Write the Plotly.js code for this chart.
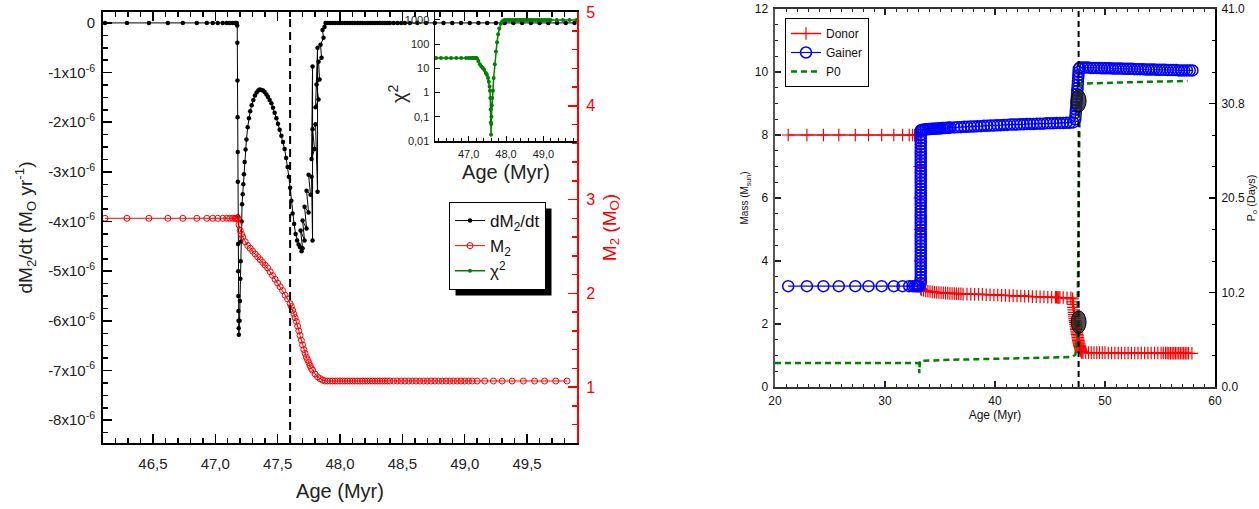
<!DOCTYPE html>
<html><head><meta charset="utf-8">
<script src="https://cdn.plot.ly/plotly-3.0.1.min.js"></script>
<style>html,body{margin:0;padding:0;background:#fff}#chart{width:1259px;height:509px}</style>
</head><body><div id="chart"></div>
<script>
// ---------- LEFT PANEL DATA ----------
// dM2/dt in units of 1e-6 Msun/yr  [age (Myr), value]
const dm2dtPts = [
[46.116,0],[46.292,0],[46.468,0],[46.62,0],[46.74,0],[46.852,0],[46.932,0],[46.98,0],[47.02,0],[47.06,0],[47.092,0],[47.116,0],[47.14,0],[47.155,0],[47.165,0],[47.172,0],
[47.176,-0.05],[47.177,-0.4],[47.178,-1.16],[47.179,-1.9],[47.18,-2.6],[47.181,-3.2],[47.182,-3.9],[47.183,-4.45],[47.184,-5.0],[47.185,-5.5],[47.186,-5.8],[47.187,-6.0],[47.188,-6.15],[47.189,-6.28],
[47.195,-6.0],[47.198,-5.6],[47.201,-5.15],[47.204,-4.8],[47.207,-4.4],[47.211,-4.0],[47.215,-3.65],
[47.22,-3.45],[47.225,-3.25],[47.23,-3.05],[47.236,-2.8],[47.243,-2.55],[47.25,-2.35],[47.26,-2.1],[47.27,-1.92],[47.28,-1.78],[47.292,-1.66],[47.305,-1.55],[47.318,-1.46],[47.332,-1.4],[47.345,-1.36],[47.356,-1.34],[47.37,-1.35],[47.383,-1.36],[47.396,-1.39],[47.41,-1.44],[47.423,-1.49],[47.436,-1.55],[47.45,-1.62],[47.463,-1.71],[47.476,-1.81],[47.49,-1.92],[47.503,-2.03],[47.516,-2.15],[47.53,-2.27],[47.543,-2.4],[47.556,-2.54],[47.568,-2.72],[47.58,-2.9],[47.59,-3.1],[47.6,-3.32],[47.61,-3.58],[47.62,-3.84],[47.632,-4.05],[47.644,-4.25],[47.656,-4.38],[47.668,-4.46],[47.68,-4.52],[47.692,-4.6],
[47.70,-4.54],[47.684,-4.18],[47.716,-4.38],[47.70,-3.98],[47.732,-4.14],[47.716,-3.7],[47.748,-3.82],[47.732,-3.38],[47.764,-3.46],[47.748,-3.06],[47.772,-3.1],[47.78,-4.38],[47.78,-0.88],[47.772,-2.74],[47.796,-2.54],[47.78,-2.14],[47.804,-2.04],[47.82,-3.4],[47.82,-0.5],[47.804,-1.7],[47.828,-1.54],[47.812,-1.24],[47.836,-1.14],[47.828,-0.78],[47.852,-0.7],[47.844,-0.44],[47.868,-0.3],[47.86,-0.14],[47.876,-0.08],[47.884,0],
[47.9,0],[47.92,0],[47.94,0],[47.96,0],[47.98,0],[48.0,0],[48.02,0],[48.04,0],[48.06,0],[48.08,0],[48.1,0],[48.12,0],[48.14,0],[48.16,0],[48.18,0],[48.2,0],[48.22,0],[48.24,0],[48.26,0],[48.28,0],[48.3,0],[48.32,0],[48.34,0],[48.36,0],[48.38,0],[48.4,0],[48.43,0],[48.46,0],[48.49,0],[48.52,0],[48.56,0],
[48.62,0],[48.69,0],[48.76,0],[48.83,0],[48.9,0],[48.97,0],[49.04,0],[49.11,0],[49.18,0],[49.25,0],[49.32,0],[49.39,0],[49.46,0],[49.53,0],[49.6,0],[49.67,0],[49.74,0],[49.81,0],[49.88,0]
];
// M2 (Msun)  [age, mass]
const m2Pts = [
[46.116,2.8],[46.292,2.8],[46.468,2.8],[46.62,2.8],[46.74,2.8],[46.852,2.8],[46.932,2.8],[46.98,2.8],[47.02,2.8],[47.06,2.8],[47.092,2.8],[47.116,2.8],[47.14,2.8],[47.155,2.8],[47.165,2.8],[47.172,2.8],
[47.18,2.8],[47.19,2.73],[47.2,2.67],[47.21,2.63],[47.22,2.6],[47.24,2.55],[47.26,2.51],[47.28,2.48],[47.3,2.45],[47.32,2.42],[47.34,2.39],[47.36,2.36],[47.38,2.33],[47.4,2.3],[47.42,2.27],[47.44,2.23],[47.46,2.19],[47.48,2.15],[47.5,2.11],[47.52,2.07],[47.54,2.03],[47.56,1.98],[47.58,1.94],[47.6,1.89],[47.61,1.86],[47.62,1.82],[47.63,1.78],[47.64,1.74],[47.65,1.7],[47.66,1.65],[47.67,1.6],[47.68,1.55],[47.69,1.5],[47.7,1.45],[47.71,1.4],[47.72,1.36],[47.73,1.32],[47.74,1.29],[47.75,1.26],[47.76,1.23],[47.77,1.2],[47.78,1.18],[47.8,1.14],[47.82,1.11],[47.84,1.09],[47.86,1.075],[47.88,1.065],
[47.9,1.065],[47.92,1.065],[47.94,1.065],[47.96,1.065],[47.98,1.065],[48.0,1.065],[48.02,1.065],[48.04,1.065],[48.06,1.065],[48.08,1.065],[48.1,1.065],[48.12,1.065],[48.14,1.065],[48.16,1.065],[48.18,1.065],[48.2,1.065],[48.22,1.065],[48.24,1.065],[48.26,1.065],[48.28,1.065],[48.3,1.065],[48.32,1.065],[48.34,1.065],[48.36,1.065],[48.38,1.065],[48.4,1.065],
[48.43,1.065],[48.46,1.065],[48.49,1.065],[48.52,1.065],[48.55,1.065],[48.58,1.065],[48.61,1.065],[48.64,1.065],[48.67,1.065],[48.7,1.065],[48.73,1.065],[48.76,1.065],[48.79,1.065],[48.82,1.065],[48.85,1.065],[48.88,1.065],[48.91,1.065],[48.94,1.065],[48.97,1.065],[49.0,1.065],[49.03,1.065],[49.06,1.065],
[49.1,1.065],[49.16,1.065],[49.23,1.065],[49.3,1.065],[49.38,1.065],[49.47,1.065],[49.56,1.065],[49.64,1.065],[49.73,1.065],[49.82,1.065]
];
// chi^2 (inset)  [age, chi2]
const chi2Pts = [
[46.13,27],[46.26,27],[46.4,27],[46.53,27],[46.67,27],[46.8,27],[46.93,27],[47.0,27],[47.06,27],[47.1,27],[47.14,27],[47.17,27],[47.2,27],
[47.22,26],[47.26,20],[47.3,15],[47.34,12],[47.38,10.5],[47.42,8.5],[47.46,6.5],[47.49,5.4],[47.52,4.0],[47.54,2.8],[47.56,1.8],[47.57,1.2],[47.58,0.6],[47.59,0.2],[47.595,0.06],[47.6,0.018],
[47.605,0.05],[47.61,0.1],[47.62,0.3],[47.63,0.6],[47.65,1.2],[47.67,4],[47.7,15],[47.73,50],[47.76,120],[47.79,260],[47.82,450],[47.86,700],[47.9,880],[47.95,1000],
[48.0,1000],[48.05,1000],[48.1,1000],[48.15,1000],[48.2,1000],[48.25,1000],[48.3,1000],[48.35,1000],[48.4,1000],[48.45,1000],[48.5,1000],[48.55,1000],[48.6,1000],[48.65,1000],[48.7,1000],[48.75,1000],[48.8,1000],[48.85,1000],[48.9,1000],[48.95,1000],[49.0,1000],[49.05,1000],[49.1,1000],[49.15,1000],[49.2,1000],
[49.36,1000],[49.52,1000],[49.7,1000],[49.88,1000]
];
const markAge = 47.6;   // dashed vertical line (both panels)

// tick labels
const dmTickVals = [0,-1,-2,-3,-4,-5,-6,-7,-8];
const dmTickText = ['0','-1x10<sup>-6</sup>','-2x10<sup>-6</sup>','-3x10<sup>-6</sup>','-4x10<sup>-6</sup>','-5x10<sup>-6</sup>','-6x10<sup>-6</sup>','-7x10<sup>-6</sup>','-8x10<sup>-6</sup>'];
const chiTickVals = [0.01,0.1,1,10,100,1000];
const chiTickText = ['0,01','0,1','1','10','100','1000'];
const insetAgeTickVals = [47,48,49];
const insetAgeTickText = ['47,0','48,0','49,0'];

// ---------- RIGHT PANEL DATA ----------
const donorPts = [
[21.2,8.0],[22.9,8.0],[24.4,8.0],[25.8,8.0],[27.3,8.0],[28.5,8.0],[29.7,8.0],[30.8,8.0],[31.6,8.0],[32.2,8.0],[32.5,8.0],[32.7,8.0],[32.85,8.0],[32.95,8.0],[33.05,8.0],
[33.15,7.0],[33.17,6.0],[33.19,5.0],[33.21,4.0],[33.23,3.4],[33.25,3.12],
[33.3,3.09],[33.5,3.07],[33.7,3.05],[33.9,3.04],[34.1,3.03],[34.3,3.02],[34.5,3.01],[34.7,3.0],[34.9,3.0],[35.1,2.99],[35.3,2.99],[35.5,2.98],[35.7,2.98],[35.9,2.97],[36.1,2.97],[36.3,2.97],[36.5,2.96],[36.7,2.96],[36.9,2.96],[37.1,2.95],
[37.45,2.95],[37.8,2.95],[38.15,2.94],[38.5,2.94],[38.85,2.94],[39.2,2.93],[39.55,2.93],[39.9,2.92],[40.25,2.92],[40.6,2.91],[40.95,2.91],[41.3,2.9],[41.65,2.9],[42.0,2.89],[42.35,2.89],[42.7,2.88],[43.05,2.88],[43.4,2.87],[43.75,2.87],[44.1,2.86],[44.45,2.86],[44.8,2.85],[45.15,2.85],[45.5,2.85],[45.6,2.85],[45.7,2.84],[45.8,2.84],[45.9,2.84],[46.2,2.84],[46.55,2.83],[46.9,2.83],
[47.05,2.8],[47.075,2.7],[47.1,2.62],[47.125,2.53],[47.15,2.45],[47.175,2.37],[47.2,2.3],[47.225,2.23],[47.25,2.17],[47.275,2.11],[47.3,2.05],[47.325,1.99],[47.35,1.93],[47.375,1.87],[47.4,1.82],[47.425,1.77],[47.45,1.72],[47.475,1.67],[47.5,1.62],[47.525,1.57],[47.55,1.52],[47.575,1.47],[47.6,1.43],[47.625,1.39],[47.65,1.36],[47.675,1.32],[47.7,1.29],[47.725,1.26],[47.75,1.23],[47.775,1.2],[47.8,1.17],[47.825,1.15],[47.85,1.13],[47.875,1.11],[47.9,1.1],
[48.0,1.09],[48.25,1.09],[48.5,1.09],[48.75,1.09],[49.0,1.09],[49.25,1.09],[49.5,1.09],[49.75,1.09],[50.0,1.09],[50.3,1.08],[50.6,1.08],[50.9,1.08],[51.2,1.08],[51.5,1.08],[51.8,1.08],[52.1,1.08],[52.4,1.08],[52.7,1.08],[53.0,1.08],[53.3,1.08],[53.6,1.08],[53.9,1.08],[54.2,1.08],[54.5,1.08],[54.8,1.08],[55.1,1.08],[55.3,1.08],[55.5,1.08],[55.65,1.08],[55.8,1.07],[55.95,1.07],[56.1,1.07],[56.25,1.07],[56.4,1.07],[56.55,1.07],[56.7,1.07],[56.85,1.07],[57.0,1.07],[57.15,1.07],[57.3,1.07],[57.45,1.07],[57.6,1.07],[57.9,1.07]
];
const gainerPts = [
[21.2,3.2],[22.9,3.2],[24.4,3.2],[25.8,3.2],[27.3,3.2],[28.5,3.2],[29.7,3.2],[30.8,3.2],[31.6,3.2],[32.2,3.2],[32.5,3.2],[32.7,3.2],[32.85,3.2],[32.95,3.2],[33.05,3.2],[33.15,3.2],
[33.25,3.3],[33.25,3.4],[33.25,3.5],[33.25,3.6],[33.25,3.7],[33.25,3.8],[33.25,3.9],[33.25,4.0],[33.25,4.1],[33.25,4.2],[33.25,4.3],[33.25,4.4],[33.25,4.5],[33.25,4.6],[33.25,4.7],[33.25,4.8],[33.25,4.9],[33.25,5.0],[33.25,5.1],[33.25,5.2],[33.25,5.3],[33.25,5.4],[33.25,5.5],[33.25,5.6],[33.25,5.7],[33.25,5.8],[33.25,5.9],[33.25,6.0],[33.25,6.1],[33.25,6.2],[33.25,6.3],[33.25,6.4],[33.25,6.5],[33.25,6.6],[33.25,6.7],[33.25,6.8],[33.25,6.9],[33.25,7.0],[33.25,7.1],[33.25,7.2],[33.25,7.3],[33.25,7.4],[33.25,7.5],[33.25,7.6],[33.25,7.7],[33.25,7.8],[33.25,7.9],[33.25,8.0],[33.25,8.1],[33.27,8.15],
[33.4,8.17],[33.55,8.17],[33.7,8.18],[33.85,8.18],[34.0,8.19],[34.15,8.19],[34.3,8.2],[34.45,8.2],[34.6,8.2],[34.75,8.21],[34.9,8.21],[35.05,8.21],[35.2,8.22],[35.35,8.22],[35.5,8.22],[35.65,8.23],[35.8,8.23],[35.95,8.24],
[36.3,8.24],[36.6,8.25],[36.9,8.25],[37.2,8.26],[37.5,8.26],[37.8,8.27],[38.1,8.27],[38.4,8.28],[38.7,8.28],[39.0,8.29],[39.3,8.29],[39.6,8.3],[39.9,8.3],[40.2,8.31],[40.5,8.31],[40.8,8.32],[41.1,8.32],[41.4,8.33],[41.7,8.33],[42.0,8.33],[42.3,8.34],[42.6,8.34],[42.9,8.35],[43.2,8.35],[43.5,8.35],[43.8,8.36],[44.1,8.36],[44.4,8.36],[44.7,8.37],[45.0,8.37],[45.3,8.37],[45.6,8.38],[45.9,8.38],[46.2,8.38],[46.5,8.39],[46.8,8.39],[47.1,8.4],
[47.3,8.5],[47.32,8.6],[47.34,8.7],[47.36,8.8],[47.38,8.9],[47.4,9.0],[47.42,9.1],[47.44,9.2],[47.46,9.3],[47.48,9.4],[47.5,9.5],[47.52,9.6],[47.54,9.7],[47.56,9.8],[47.58,9.9],[47.6,10.0],[47.62,10.1],
[47.7,10.14],[47.95,10.14],[48.2,10.14],[48.45,10.14],[48.7,10.13],[48.95,10.13],[49.2,10.13],[49.45,10.13],[49.7,10.12],[49.95,10.12],[50.2,10.12],[50.45,10.12],[50.7,10.11],[50.95,10.11],[51.2,10.11],[51.45,10.11],[51.7,10.1],[51.95,10.1],[52.2,10.1],[52.45,10.1],[52.7,10.09],[52.95,10.09],[53.2,10.09],[53.45,10.09],[53.7,10.08],[53.95,10.08],[54.2,10.08],[54.45,10.08],[54.7,10.07],[54.95,10.07],[55.2,10.07],[55.45,10.07],[55.7,10.06],[55.95,10.06],[56.2,10.06],[56.45,10.06],[56.7,10.05],[56.95,10.05],[57.2,10.05],[57.45,10.05],[57.7,10.05],[57.95,10.05]
];
// orbital period P0 (days)  [age, P0]
const p0Pts = [
[20.0,2.6],[25.0,2.6],[30.0,2.6],[33.1,2.6],[33.12,1.5],[33.17,2.83],[36.0,2.95],[40.0,3.05],[44.0,3.15],[47.0,3.25],[47.3,3.5],[47.45,5.0],[47.55,12.0],[47.6,20.0],[47.65,27.0],[47.7,31.5],[47.75,32.8],[47.85,32.9],[52.0,33.05],[57.5,33.2]
];
// marked evolutionary points (Age, Mass)
const markedAge = [47.6, 47.6];
const markedMass = [9.08, 2.06];
const massTickVals = [0,2,4,6,8,10,12];
const pTickVals = [0,10.25,20.5,30.75,41];
const pTickText = ['0.0','10.2','20.5','30.8','41.0'];

// ---------- PLOT ----------
const W = 1259, H = 509;
const px = v => v / W, py = v => 1 - v / H;
const xs = p => p.map(d => d[0]), ys = p => p.map(d => d[1]);
const FONT = 'Liberation Sans, Arial, sans-serif';
const NFONT = 'Liberation Sans Narrow, Liberation Sans, Arial, sans-serif';

const traces = [
  {x: xs(dm2dtPts), y: ys(dm2dtPts), xaxis:'x', yaxis:'y', name:'dM<sub>2</sub>/dt', mode:'lines+markers',
   line:{color:'#000', width:1}, marker:{color:'#000', size:4.5}, legend:'legend'},
  {x: xs(m2Pts), y: ys(m2Pts), xaxis:'x', yaxis:'y2', name:'M<sub>2</sub>', mode:'lines+markers',
   line:{color:'#ff0000', width:1}, marker:{symbol:'circle-open', color:'#ff0000', size:6, line:{width:1}}, legend:'legend'},
  {x: xs(chi2Pts), y: ys(chi2Pts), xaxis:'x3', yaxis:'y3', name:'χ<sup>2</sup>', mode:'lines+markers',
   line:{color:'#008000', width:1.5}, marker:{color:'#008000', size:4}, legend:'legend'},
  {x: xs(donorPts), y: ys(donorPts), xaxis:'x4', yaxis:'y4', name:'Donor', mode:'lines+markers',
   line:{color:'#ff0000', width:1.5}, marker:{symbol:'cross-thin', size:9, color:'#ff0000', line:{color:'#ff0000', width:1.2}}, legend:'legend2'},
  {x: xs(gainerPts), y: ys(gainerPts), xaxis:'x4', yaxis:'y4', name:'Gainer', mode:'lines+markers',
   line:{color:'#0000ff', width:1.2}, marker:{symbol:'circle-open', size:11, color:'#0000ff', line:{width:1.5}}, legend:'legend2'},
  {x: xs(p0Pts), y: ys(p0Pts), xaxis:'x4', yaxis:'y5', name:'P0', mode:'lines',
   line:{color:'#008000', width:2.5, dash:'6px,4px'}, legend:'legend2'}
];

const shapes = [
  {type:'line', xref:'x', yref:'y domain', x0:markAge, x1:markAge, y0:0, y1:1, line:{color:'#000', width:2, dash:'8px,5px'}, layer:'above'},
  {type:'line', xref:'x4', yref:'y4 domain', x0:markAge, x1:markAge, y0:0, y1:1, line:{color:'#000', width:2, dash:'6px,4px'}, layer:'above'},
  // legend drop shadow (left panel); refined after render from the legend box
  {type:'rect', xref:'paper', yref:'paper', x0:px(455), x1:px(564), y0:py(306), y1:py(208), fillcolor:'#000', line:{width:0}, layer:'above'}
];
markedAge.forEach((a, i) => {
  shapes.push({type:'circle', xref:'x4', yref:'y4', x0:a - 0.68, x1:a + 0.68, y0:markedMass[i] - 0.36, y1:markedMass[i] + 0.36,
    fillcolor:'rgba(35,35,35,0.8)', line:{color:'#000', width:1}, layer:'above'});
});

const tickCommon = {ticks:'inside', showgrid:false, zeroline:false, showline:true};

const layout = {
  width: W, height: H,
  margin:{l:0, r:0, t:0, b:0},
  paper_bgcolor:'#fff', plot_bgcolor:'rgba(0,0,0,0)',
  separators:',.',
  font:{family:FONT, color:'#222'},
  showlegend:true,
  xaxis: Object.assign({}, tickCommon, {
    domain:[px(103), px(577)], anchor:'y', range:[46.1, 49.9], tick0:0, dtick:0.5, tickformat:'.1f',
    ticklen:9, tickwidth:1.5, tickcolor:'#000', linecolor:'#000', linewidth:2, mirror:'ticks',
    minor:{ticks:'inside', tick0:0, dtick:0.1, ticklen:5, tickwidth:1.5, tickcolor:'#000'},
    tickfont:{size:15, color:'#222'}, ticklabelstandoff:6,
    title:{text:'Age (Myr)', font:{size:20, color:'#222'}, standoff:13}
  }),
  yaxis: Object.assign({}, tickCommon, {
    domain:[py(443), py(12)], anchor:'x', range:[-8.46, 0.22], tickmode:'array', tickvals:dmTickVals, ticktext:dmTickText,
    ticklen:9, tickwidth:1.5, tickcolor:'#000', linecolor:'#000', linewidth:2,
    minor:{ticks:'inside', tick0:0, dtick:0.25, ticklen:5, tickwidth:1.5, tickcolor:'#000'},
    tickfont:{size:15, color:'#222'}, ticklabelstandoff:3,
    title:{text:'dM<sub>2</sub>/dt (M<sub>O</sub> yr<sup>-1</sup>)', font:{size:19, color:'#222'}, standoff:10}
  }),
  yaxis2: Object.assign({}, tickCommon, {
    overlaying:'y', side:'right', anchor:'x', range:[0.404, 5.0], tick0:0, dtick:1,
    ticklen:9, tickwidth:1.5, tickcolor:'#ff0000', linecolor:'#ff0000', linewidth:2,
    minor:{ticks:'inside', tick0:0, dtick:0.2, ticklen:5, tickwidth:1.5, tickcolor:'#ff0000'},
    tickfont:{size:16, color:'#ff0000'}, ticklabelstandoff:4,
    title:{text:'M<sub>2</sub> (M<sub>O</sub>)', font:{size:19, color:'#ff0000'}, standoff:8}
  }),
  xaxis3: Object.assign({}, tickCommon, {
    domain:[px(435), px(577)], anchor:'y3', range:[46.1, 49.9], tickmode:'array', tickvals:insetAgeTickVals, ticktext:insetAgeTickText,
    ticklen:5, tickwidth:1, tickcolor:'#000', linecolor:'#000', linewidth:1.5,
    minor:{ticks:'inside', tick0:0, dtick:0.2, ticklen:3, tickwidth:1, tickcolor:'#000'},
    tickfont:{size:11, color:'#222'}, ticklabelstandoff:2,
    title:{text:'Age (Myr)', font:{size:20, color:'#222'}, standoff:6}
  }),
  yaxis3: Object.assign({}, tickCommon, {
    domain:[py(141), py(12)], anchor:'x3', type:'log', range:[-2, 3.33], tickmode:'array', tickvals:chiTickVals, ticktext:chiTickText,
    ticklen:5, tickwidth:1, tickcolor:'#000', linecolor:'#000', linewidth:1.5,
    tickfont:{size:11, color:'#222'}, ticklabelstandoff:2
  }),
  xaxis4: Object.assign({}, tickCommon, {
    domain:[px(775), px(1215)], anchor:'y4', range:[20, 60], tick0:0, dtick:10,
    ticklen:6, tickwidth:1.2, tickcolor:'#222', linecolor:'#333', linewidth:2, mirror:'ticks',
    minor:{ticks:'inside', tick0:0, dtick:1, ticklen:3, tickwidth:1, tickcolor:'#222'},
    tickfont:{size:12, family:NFONT, color:'#111'}, ticklabelstandoff:2,
    title:{text:'Age (Myr)', font:{size:12, family:NFONT, color:'#111'}, standoff:3}
  }),
  yaxis4: Object.assign({}, tickCommon, {
    domain:[py(387), py(9)], anchor:'x4', range:[0, 12], tickmode:'array', tickvals:massTickVals,
    ticklen:6, tickwidth:1.2, tickcolor:'#222', linecolor:'#555', linewidth:2.5,
    minor:{ticks:'inside', tick0:0, dtick:0.5, ticklen:3, tickwidth:1, tickcolor:'#222'},
    tickfont:{size:12, family:NFONT, color:'#111'}, ticklabelstandoff:2,
    title:{text:'Mass (M<sub>sun</sub>)', font:{size:10, family:NFONT, color:'#111'}, standoff:4}
  }),
  yaxis5: Object.assign({}, tickCommon, {
    overlaying:'y4', side:'right', anchor:'x4', range:[0, 41], tickmode:'array', tickvals:pTickVals, ticktext:pTickText,
    ticklen:6, tickwidth:1.2, tickcolor:'#000', linecolor:'#000', linewidth:2,
    minor:{ticks:'inside', tick0:0, dtick:41/12, ticklen:3, tickwidth:1, tickcolor:'#000'},
    tickfont:{size:12, family:NFONT, color:'#111'}, ticklabelstandoff:2,
    title:{text:'P<sub>o</sub> (Days)', font:{size:11, family:NFONT, color:'#111'}, standoff:4}
  }),
  legend:{x:px(449), y:py(202), xanchor:'left', yanchor:'top', bgcolor:'#fff', bordercolor:'#000', borderwidth:1,
    font:{size:17, family:FONT, color:'#111'}, tracegroupgap:0},
  legend2:{x:px(785), y:py(18), xanchor:'left', yanchor:'top', bgcolor:'#fff', bordercolor:'#000', borderwidth:1,
    font:{size:12, family:NFONT, color:'#111'}, tracegroupgap:0},
  annotations:[
    // inset y-axis title
    {text:'χ<sup>2</sup>', xref:'paper', yref:'paper', x:px(397), y:py(93), xanchor:'center', yanchor:'middle',
     textangle:-90, showarrow:false, font:{size:20, family:FONT, color:'#222'}}
  ],
  shapes: shapes
};

Plotly.newPlot('chart', traces, layout, {displayModeBar:false, staticPlot:true}).then(gd => {
  // place the drop shadow 6 px right/below the drawn legend box
  const bg = gd.querySelector('g.legend rect.bg');
  if (!bg) return;
  const r = bg.getBoundingClientRect(), c = gd.getBoundingClientRect();
  const L = r.left - c.left, T = r.top - c.top;
  return Plotly.relayout(gd, {
    'shapes[2].x0': px(L + 6), 'shapes[2].x1': px(L + r.width + 6),
    'shapes[2].y0': py(T + r.height + 6), 'shapes[2].y1': py(T + 6)
  });
});
</script></body></html>
